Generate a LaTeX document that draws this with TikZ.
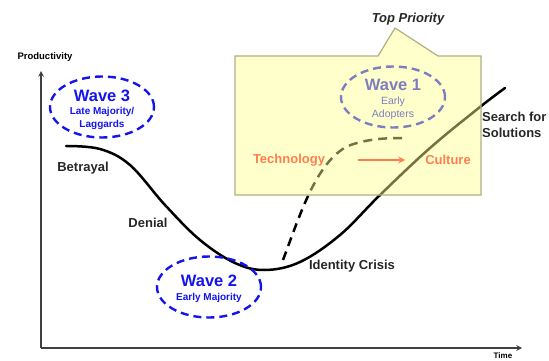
\documentclass[tikz,border=0pt]{standalone}
\usepackage{fontspec}
\setmainfont{Liberation Sans}
\usetikzlibrary{shapes.geometric,arrows}

\definecolor{waveblue}{RGB}{20,20,235}
\definecolor{notefill}{RGB}{255,255,140}
\definecolor{noteedge}{RGB}{175,175,130}
\definecolor{shiftorange}{RGB}{255,125,80}

\begin{document}
\begin{tikzpicture}[x=1pt, y=-1pt, >=stealth]
	\tikzstyle{wave} = [draw=waveblue, line width=2.4pt, dash pattern=on 8pt off 5pt, ellipse, minimum width=104pt, minimum height=61pt, inner sep=0pt]
	\tikzstyle{wavetitle} = [text=waveblue, font=\bfseries\fontsize{16.5}{18}\selectfont, inner sep=0pt]
	\tikzstyle{wavesub} = [text=waveblue, font=\bfseries\fontsize{10}{13}\selectfont, align=center, inner sep=0pt]
	\tikzstyle{stage} = [text=black!85, font=\bfseries\fontsize{13}{16}\selectfont, inner sep=0pt]
	\tikzstyle{shiftlabel} = [text=shiftorange, font=\bfseries\fontsize{13}{16}\selectfont, inner sep=0pt]
	\tikzstyle{axis} = [draw=black!75, line width=1.5pt]
	\tikzstyle{curve} = [draw=black, line width=2.5pt]

	\useasboundingbox (0,0) rectangle (549,361);

	% axes
	\coordinate (o) at (41,348);
	\coordinate (ytip) at (41,71);
	\coordinate (xtip) at (522,348);
	\draw[axis, ->] (o) -- (ytip);
	\draw[axis, ->] (o) -- (xtip);
	\node[font=\bfseries\fontsize{9.5}{11}\selectfont, inner sep=0pt] (prod) at (45,57) {Productivity};
	\node[font=\bfseries\fontsize{8}{10}\selectfont, inner sep=0pt] (time) at (503,355.5) {Time};

	% productivity curve
	\draw[curve, line cap=round] plot[smooth, tension=0.6] coordinates {(66,146) (100,149) (130,165) (165,205) (200,240) (235,263) (265,270) (300,262) (340,235) (380,195) (430,148) (480,107) (505,88)};
	\draw[curve, dash pattern=on 9pt off 6pt] (283,260) .. controls (300,215) and (316,162) .. (348,146) .. controls (366,139) and (385,138) .. (403,138);

	% wave 1 sits under the note
	\node[wave] (w1) at (393,97) {};
	\node[wavetitle] (w1t) at (393,85) {Wave 1};
	\node[text=waveblue, font=\fontsize{10.5}{13}\selectfont, align=center, inner sep=0pt, below of=w1t, node distance=23pt] (w1s) {Early\\Adopters};

	% note
	\draw[draw=noteedge, line width=1.2pt, fill=notefill, fill opacity=0.45, line join=miter]
		(235,56) -- (378,56) -- (395,28) -- (438,56) -- (481,56) -- (481,195) -- (235,195) -- cycle;
	\node[font=\bfseries\itshape\fontsize{13}{15}\selectfont, text=black!85, inner sep=0pt] (top) at (408,19) {Top Priority};

	\node[shiftlabel] (tech) at (289,160) {Technology};
	\node[shiftlabel] (cult) at (448,160) {Culture};
	\draw[shiftorange, line width=2pt, -stealth, shorten <=33pt, shorten >=20pt] (tech) -- (cult);

	% waves 3 and 2
	\node[wave] (w3) at (102,107) {};
	\node[wavetitle] (w3t) at (102,96) {Wave 3};
	\node[wavesub, below of=w3t, node distance=22.5pt] (w3s) {Late Majority/\\Laggards};

	\node[wave] (w2) at (209,287) {};
	\node[wavetitle] (w2t) at (209,281) {Wave 2};
	\node[wavesub, below of=w2t, node distance=17pt] (w2s) {Early Majority};

	% stages
	\node[stage] (betrayal) at (83,168) {Betrayal};
	\node[stage] (denial) at (148,223) {Denial};
	\node[stage] (crisis) at (352,266) {Identity Crisis};
	\node[stage, anchor=west, align=left] (search) at (482,125) {Search for\\Solutions};
\end{tikzpicture}
\end{document}
